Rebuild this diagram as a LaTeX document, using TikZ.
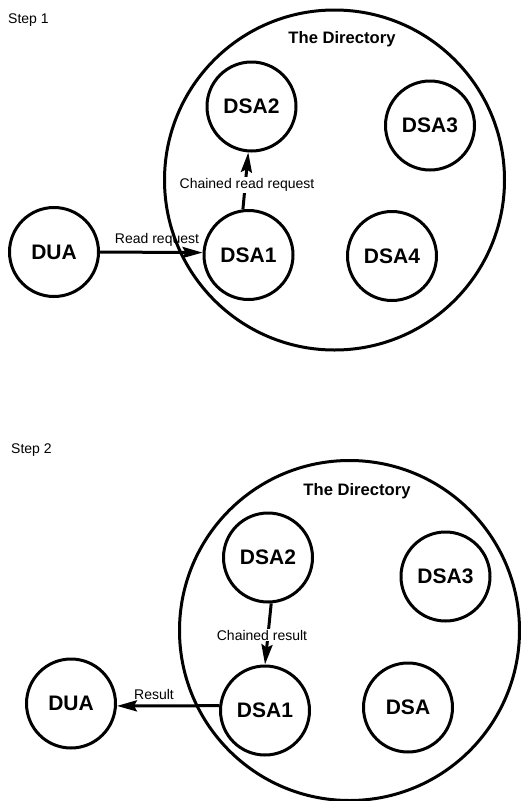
\documentclass[tikz,border=0pt]{standalone}
\usepackage{fontspec}
\setmainfont{Liberation Sans}
\usetikzlibrary{arrows.meta}

\tikzset{
  agent/.style={circle, draw, line width=3pt, minimum size=89pt, inner sep=0pt,
    font=\fontsize{21}{24}\selectfont\bfseries},
  directory/.style={circle, draw, line width=3pt, minimum size=340pt, inner sep=0pt},
  dirtitle/.style={font=\fontsize{16.6}{19}\selectfont\bfseries},
  steplabel/.style={anchor=west, inner sep=0pt, font=\fontsize{14}{16}\selectfont},
  msglabel/.style={inner sep=1pt, font=\fontsize{14}{16}\selectfont},
  msg/.style={line width=3pt, -{Stealth[length=20pt, width=11pt, inset=3pt]}},
}

\begin{document}
\begin{tikzpicture}[x=1pt, y=-1pt]
  \useasboundingbox (0,0) rectangle (521,801);

  % ---------------- Step 1: the read request travels inward ----------------
  \node[steplabel] (step1) at (8,20) {Step 1};
  \node[dirtitle] (title1) at (342,39) {The Directory};

  \node[agent] (dua1)  at (54,252)    {DUA};
  \node[agent] (dsa1a) at (248.5,255) {DSA1};
  \node[agent] (dsa2a) at (251.5,106.5) {DSA2};
  \node[agent] (dsa3a) at (430,125.5) {DSA3};
  \node[agent] (dsa4a) at (392,256)   {DSA4};

  \draw[msg] (dua1.east) -- (dsa1a.177);
  \node[msglabel] (lread) at (157,240) {Read request};

  \draw[msg] (dsa1a.97) -- (dsa2a.266);
  \node[msglabel, fill=white] (lchain1) at (247,185) {Chained read request};

  \node[directory] (dir1) at (334.5,180) {};

  % ---------------- Step 2: the result travels back out ----------------
  \node[steplabel] (step2) at (11,450) {Step 2};
  \node[dirtitle] (title2) at (357,491) {The Directory};

  \node[agent] (dua2)  at (71,703.5)  {DUA};
  \node[agent] (dsa1b) at (265,710.5) {DSA1};
  \node[agent] (dsa2b) at (268,557.5) {DSA2};
  \node[agent] (dsa3b) at (445.5,576.5) {DSA3};
  \node[agent] (dsa4b) at (408,707.5) {DSA};

  \draw[msg] (dsa2b.274) -- (dsa1b.north);
  \node[msglabel, fill=white] (lchain2) at (262,635) {Chained result};

  \draw[msg] (dsa1b.174) -- (dua2.357);
  \node[msglabel] (lresult) at (154,694) {Result};

  \node[directory] (dir2) at (349.5,630.5) {};
\end{tikzpicture}
\end{document}
